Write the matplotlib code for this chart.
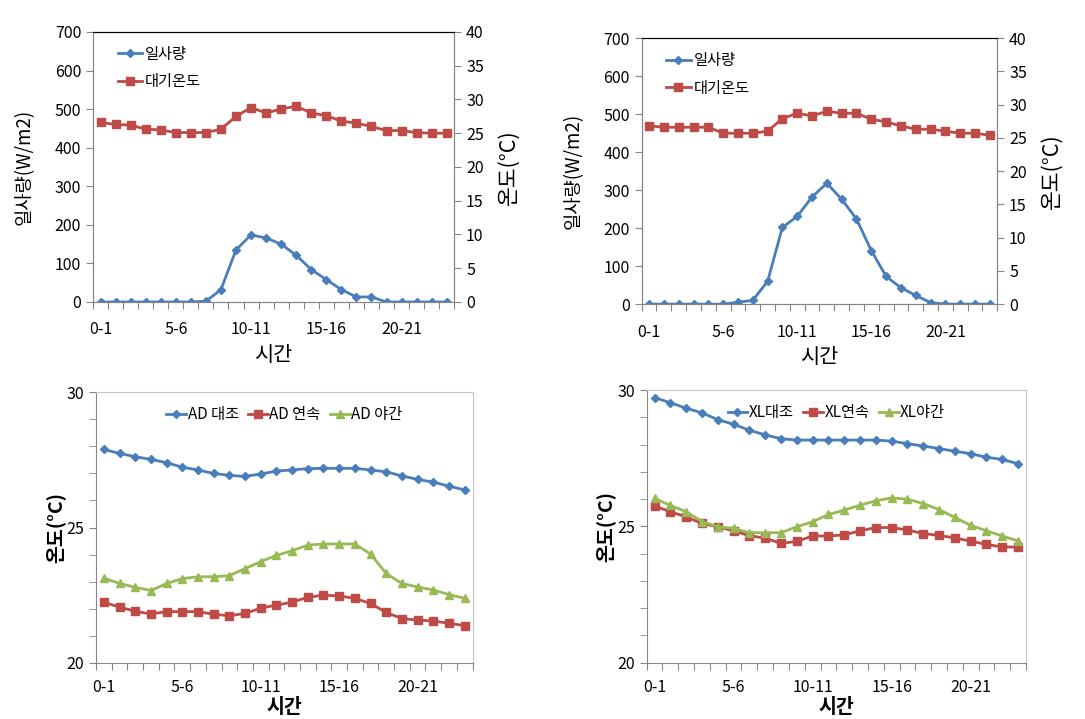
import matplotlib
matplotlib.use("Agg")
import matplotlib.pyplot as plt
import numpy as np

plt.rcParams['font.family'] = ['Noto Sans CJK KR', 'DejaVu Sans']

hours = [f"{h}-{h+1}" for h in range(24)]
label_idx = [0, 5, 10, 15, 20]

# Top-left chart
solar_a = [0, 0, 0, 0, 0, 0, 0, 2, 32, 135, 174, 166, 150, 121, 84, 58, 32, 13, 13, 0, 0, 0, 0, 0]
air_a = [26.6, 26.3, 26.2, 25.6, 25.5, 25.1, 25.1, 25.1, 25.6, 27.5, 28.8, 28.0, 28.6, 29.0, 28.0,
         27.6, 26.8, 26.5, 26.0, 25.4, 25.4, 25.1, 25.0, 25.0]
# Top-right chart
solar_b = [0, 0, 0, 0, 0, 0, 5, 10, 60, 202, 231, 282, 318, 276, 224, 141, 73, 43, 23, 4, 0, 0, 0, 0]
air_b = [26.8, 26.6, 26.6, 26.6, 26.6, 25.7, 25.7, 25.7, 26.0, 27.9, 28.7, 28.3, 29.0, 28.7, 28.7,
         27.8, 27.4, 26.8, 26.3, 26.3, 26.0, 25.7, 25.7, 25.4]
# Bottom-left chart
ad_ctrl = [27.89, 27.74, 27.62, 27.52, 27.40, 27.23, 27.13, 27.00, 26.93, 26.89, 26.98, 27.09, 27.13,
           27.18, 27.19, 27.19, 27.19, 27.13, 27.06, 26.91, 26.78, 26.68, 26.53, 26.39]
ad_cont = [22.23, 22.06, 21.90, 21.80, 21.89, 21.89, 21.89, 21.79, 21.74, 21.82, 22.02, 22.13, 22.24,
           22.42, 22.50, 22.47, 22.38, 22.19, 21.86, 21.63, 21.58, 21.54, 21.46, 21.37]
ad_night = [23.13, 22.93, 22.79, 22.67, 22.93, 23.11, 23.18, 23.18, 23.22, 23.48, 23.74, 23.97, 24.14,
            24.35, 24.39, 24.39, 24.39, 24.02, 23.30, 22.93, 22.80, 22.69, 22.52, 22.38]
# Bottom-right chart
xl_ctrl = [29.73, 29.54, 29.34, 29.17, 28.92, 28.75, 28.53, 28.36, 28.22, 28.17, 28.17, 28.17, 28.17,
           28.17, 28.17, 28.13, 28.04, 27.95, 27.86, 27.76, 27.67, 27.54, 27.46, 27.30]
xl_cont = [25.75, 25.54, 25.35, 25.11, 24.99, 24.84, 24.66, 24.57, 24.38, 24.45, 24.65, 24.65, 24.69,
           24.84, 24.96, 24.96, 24.87, 24.74, 24.67, 24.58, 24.46, 24.34, 24.25, 24.24]
xl_night = [26.03, 25.77, 25.54, 25.18, 24.99, 24.93, 24.77, 24.77, 24.77, 24.99, 25.17, 25.44, 25.60,
            25.78, 25.94, 26.05, 26.00, 25.84, 25.62, 25.33, 25.04, 24.84, 24.65, 24.47]

BLUE = '#4A7EBB'
RED = '#BE4B48'
GREEN = '#98B954'
GRAY = '#868686'
TICK_FS = 11.5

x = np.arange(24)
fig = plt.figure(figsize=(10.85, 7.19), dpi=100)


def style_x(ax, pad):
    ax.set_xlim(-0.5, 23.5)
    ax.set_xticks(np.arange(-0.5, 24, 1))
    ax.set_xticklabels([])
    ax.set_xticks(label_idx, minor=True)
    ax.set_xticklabels([hours[i] for i in label_idx], minor=True)
    ax.tick_params(axis='x', which='major', length=5, color=GRAY, direction='out')
    ax.tick_params(axis='x', which='minor', length=0, labelsize=TICK_FS, pad=pad)


def top_chart(rect, solar, air):
    ax = fig.add_axes(rect)
    ax2 = ax.twinx()
    l1, = ax.plot(x, solar, color=BLUE, marker='D', markersize=4.5, lw=2, label='일사량')
    l2, = ax2.plot(x, air, color=RED, marker='s', markersize=6, lw=2, label='대기온도')
    ax.set_ylim(0, 700)
    ax.set_yticks(range(0, 701, 100))
    ax2.set_ylim(0, 40)
    ax2.set_yticks(range(0, 41, 5))
    style_x(ax, 14)
    for a in (ax, ax2):
        for s in ('left', 'right', 'bottom'):
            a.spines[s].set_color(GRAY)
        a.spines['top'].set_color('black')
        a.tick_params(axis='y', length=5, color=GRAY, labelsize=TICK_FS)
    ax.set_xlabel('시간', fontsize=15, labelpad=4)
    ax.set_ylabel('일사량(W/m2)', fontsize=13.5, labelpad=14)
    ax2.set_ylabel('온도(°C)', fontsize=15.5, labelpad=10)
    ax.legend([l1, l2], ['일사량', '대기온도'], loc='upper left', frameon=False, fontsize=11,
              handlelength=1.6, handletextpad=0.2, labelspacing=0.7, bbox_to_anchor=(0.03, 1.0))
    return ax


def bottom_chart(rect, s1, s2, s3, labels):
    ax = fig.add_axes(rect)
    ax.plot(x, s1, color=BLUE, marker='D', markersize=4.5, lw=2, label=labels[0])
    ax.plot(x, s2, color=RED, marker='s', markersize=6, lw=2, label=labels[1])
    ax.plot(x, s3, color=GREEN, marker='^', markersize=6, lw=2, label=labels[2])
    ax.set_ylim(20, 30)
    ax.set_yticks([20, 25, 30])
    ax.set_yticks(np.arange(20, 31, 1), minor=True)
    ax.tick_params(axis='y', which='both', length=5, color=GRAY, labelsize=TICK_FS)
    style_x(ax, 12)
    for s in ('left', 'bottom'):
        ax.spines[s].set_color(GRAY)
    for s in ('top', 'right'):
        ax.spines[s].set_color('#C8C8C8')
    ax.set_xlabel('시간', fontsize=14, fontweight='bold', labelpad=1)
    ax.set_ylabel('온도(°C)', fontsize=14, fontweight='bold', labelpad=1)
    ax.legend(loc='upper center', ncol=3, frameon=False, fontsize=11, handlelength=1.3,
              handletextpad=0.1, columnspacing=0.6, bbox_to_anchor=(0.5, 1.0))
    return ax


top_chart([0.0857, 0.580, 0.333, 0.3755], solar_a, air_a)
top_chart([0.5914, 0.577, 0.3277, 0.370], solar_b, air_b)
bottom_chart([0.0885, 0.0783, 0.347, 0.376], ad_ctrl, ad_cont, ad_night, ['AD 대조', 'AD 연속', 'AD 야간'])
bottom_chart([0.596, 0.0783, 0.3496, 0.379], xl_ctrl, xl_cont, xl_night, ['XL대조', 'XL연속', 'XL야간'])

fig.savefig('out.png', dpi=100)
